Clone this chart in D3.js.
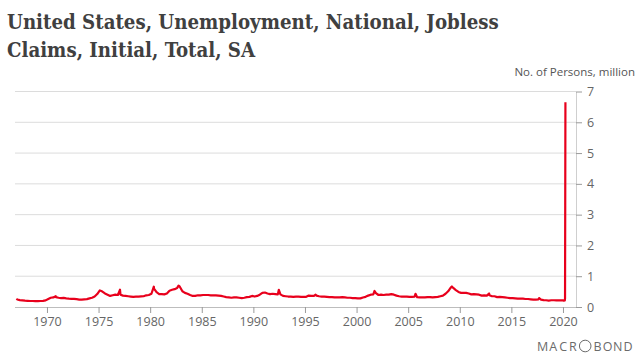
<!DOCTYPE html>
<html>
<head>
<meta charset="utf-8">
<script src="https://cdn.jsdelivr.net/npm/d3@7"></script>
<style>
  body { margin: 0; background: #fff; }
  svg { display: block; }
</style>
</head>
<body>
<div id="vis"></div>
<script>
const FRAME_WIDTH = 639;
const FRAME_HEIGHT = 363;
const PLOT = {left: 15, right: 576, top: 91.5, bottom: 307};

const TITLE_LINES = ["United States, Unemployment, National, Jobless", "Claims, Initial, Total, SA"];
const UNIT_LABEL = "No. of Persons, million";
const LOGO_TEXT = "MACROBOND";
const Y_TICKS = [0, 1, 2, 3, 4, 5, 6, 7];
const X_TICK_YEARS = [1970, 1975, 1980, 1985, 1990, 1995, 2000, 2005, 2010, 2015, 2020];

// quarterly averages of weekly initial claims, thousands
const claims1960s = [245, 225, 215, 205, 200, 195, 195, 190, 190, 195, 200, 215];
const claims1970s = [260, 300, 310, 320, 300, 290, 295, 280, 270, 265, 265, 255,
  240, 240, 250, 255, 280, 300, 340, 420, 540, 500, 440, 400, 360, 380, 400, 390,
  400, 370, 360, 350, 340, 330, 335, 340, 345, 350, 380, 390];
const claims1980s = [430, 600, 480, 420, 420, 410, 440, 530, 560, 580, 620, 660,
  510, 460, 430, 390, 360, 360, 380, 380, 390, 390, 390, 380, 380, 380, 370, 360,
  340, 320, 310, 300, 310, 310, 300, 290, 300, 320, 330, 360];
const claims1990s = [340, 360, 400, 460, 470, 440, 420, 430, 420, 410, 410, 360,
  350, 340, 340, 330, 340, 340, 330, 330, 330, 370, 360, 360, 370, 350, 340, 340,
  330, 320, 320, 310, 310, 310, 320, 310, 300, 300, 290, 290];
const claims2000s = [280, 280, 310, 330, 370, 400, 410, 450, 390, 400, 390, 400,
  400, 420, 400, 370, 350, 340, 340, 340, 330, 330, 340, 320, 310, 310, 310, 320,
  320, 310, 320, 330, 350, 370, 430, 510, 630, 620, 550, 490];
const claims2010s = [460, 460, 460, 440, 410, 420, 410, 400, 370, 380, 370, 380,
  350, 350, 320, 330, 320, 310, 300, 290, 290, 280, 270, 270, 270, 260, 260, 250,
  240, 240, 250, 240, 225, 220, 210, 220, 220, 215, 215, 220];

// single-week jumps visible in the line
const spikeDates = ["1967-01-14", "1970-11-07", "1977-01-29", "1980-05-10", "1982-10-02", "1992-06-20",
  "1996-01-13", "2001-09-29", "2005-09-17", "2009-03-28", "2012-11-03", "2017-09-09"];
const spikeValues = [265, 350, 560, 660, 695, 560, 400, 520, 430, 665, 440, 290];

// weekly values of 2020
const recentDates = ["2020-01-04", "2020-02-01", "2020-03-07", "2020-03-14", "2020-03-21", "2020-03-28"];
const recentValues = [215, 205, 211, 282, 3307, 6648];

function buildSeries() {
  const decades = [[1967, claims1960s], [1970, claims1970s], [1980, claims1980s],
                   [1990, claims1990s], [2000, claims2000s], [2010, claims2010s]];
  const pts = [];
  decades.forEach(([start, vals]) => {
    vals.forEach((v, i) => {
      const yr = start + Math.floor(i / 4);
      const q = i % 4;
      pts.push({date: new Date(yr, q * 3 + 1, 15), value: v / 1000});
    });
  });
  const parse = d3.timeParse("%Y-%m-%d");
  spikeDates.forEach((d, i) => pts.push({date: parse(d), value: spikeValues[i] / 1000}));
  recentDates.forEach((d, i) => pts.push({date: parse(d), value: recentValues[i] / 1000}));
  pts.sort((a, b) => a.date - b.date);
  return pts;
}

const svg = d3.select("#vis")
  .append("svg")
    .attr("width", FRAME_WIDTH)
    .attr("height", FRAME_HEIGHT);

// title, fitted to the width of the reference
const title = svg.append("g");
TITLE_LINES.forEach((t, i) => {
  title.append("text")
    .attr("x", 7)
    .attr("y", 29 + i * 27.5)
    .attr("font-family", "DejaVu Serif Condensed, DejaVu Serif, serif")
    .attr("font-stretch", "condensed")
    .attr("font-weight", "bold")
    .attr("font-size", 20)
    .attr("fill", "#404040")
    .text(t);
});
const firstW = title.select("text").node().getComputedTextLength();
const fitSize = 20 * 492 / firstW;
title.selectAll("text").attr("font-size", fitSize);

const data = buildSeries();

const X_SCALE = d3.scaleTime()
  .domain([new Date(1967, 0, 1), new Date(2020, 3, 1)])
  .range([16, 16 + (2020.25 - 1967) * 10.32]);

const Y_SCALE = d3.scaleLinear()
  .domain([0, 7])
  .range([PLOT.bottom, PLOT.top]);

const AXIS_FONT = "Open Sans, sans-serif";

// gridlines
svg.append("g")
  .selectAll("line")
  .data(Y_TICKS.filter(d => d > 0))
  .enter()
  .append("line")
    .attr("x1", PLOT.left)
    .attr("x2", PLOT.right)
    .attr("y1", d => Y_SCALE(d))
    .attr("y2", d => Y_SCALE(d))
    .attr("stroke", "#dcdcdc")
    .attr("stroke-width", 1);

// x axis
const xAxis = svg.append("g")
  .attr("transform", "translate(0," + PLOT.bottom + ")")
  .call(d3.axisBottom(X_SCALE)
    .tickValues(X_TICK_YEARS.map(y => new Date(y, 0, 1)))
    .tickFormat(d3.timeFormat("%Y"))
    .tickSizeInner(6)
    .tickSizeOuter(0)
    .tickPadding(4));
xAxis.select(".domain").attr("d", "M" + PLOT.left + ",0.5H" + PLOT.right).attr("stroke", "#bdbdbd");
xAxis.selectAll(".tick line").attr("stroke", "#9a9a9a");
xAxis.selectAll("text")
  .attr("font-family", AXIS_FONT)
  .attr("font-size", 12.5)
  .attr("fill", "#666");

// y axis on the right
const yAxis = svg.append("g")
  .attr("transform", "translate(" + PLOT.right + ",0)")
  .call(d3.axisRight(Y_SCALE)
    .tickValues(Y_TICKS)
    .tickFormat(d3.format("d"))
    .tickSizeInner(6)
    .tickSizeOuter(0)
    .tickPadding(5));
yAxis.select(".domain").attr("stroke", "#cfcfcf");
yAxis.selectAll(".tick line").attr("stroke", "#9a9a9a");
yAxis.selectAll("text")
  .attr("font-family", AXIS_FONT)
  .attr("font-size", 12.5)
  .attr("fill", "#666");

svg.append("text")
  .attr("x", 635)
  .attr("y", 76)
  .attr("text-anchor", "end")
  .attr("font-family", AXIS_FONT)
  .attr("font-size", 11.5)
  .attr("fill", "#555")
  .text(UNIT_LABEL);

// the series
const line = d3.line()
  .x(d => X_SCALE(d.date))
  .y(d => Y_SCALE(d.value));

svg.append("path")
  .datum(data)
  .attr("d", line)
  .attr("fill", "none")
  .attr("stroke", "#e8001c")
  .attr("stroke-width", 2.2)
  .attr("stroke-linejoin", "round");

// logo: letters placed one by one, the first "O" drawn as a ring
const logoX = [542.6, 553.3, 563.3, 572.8, 585.2, 597.5, 607.5, 617.8, 628];
const logo = svg.append("g")
  .attr("font-family", AXIS_FONT)
  .attr("font-size", 12.5)
  .attr("fill", "#6b6b6b");
LOGO_TEXT.split("").forEach((ch, i) => {
  if (i === 4) {
    logo.append("circle")
      .attr("cx", logoX[i])
      .attr("cy", 346)
      .attr("r", 5.8)
      .attr("fill", "none")
      .attr("stroke", "#6b6b6b")
      .attr("stroke-width", 1);
  } else {
    logo.append("text")
      .attr("x", logoX[i])
      .attr("y", 350.5)
      .attr("text-anchor", "middle")
      .text(ch);
  }
});
</script>
</body>
</html>
